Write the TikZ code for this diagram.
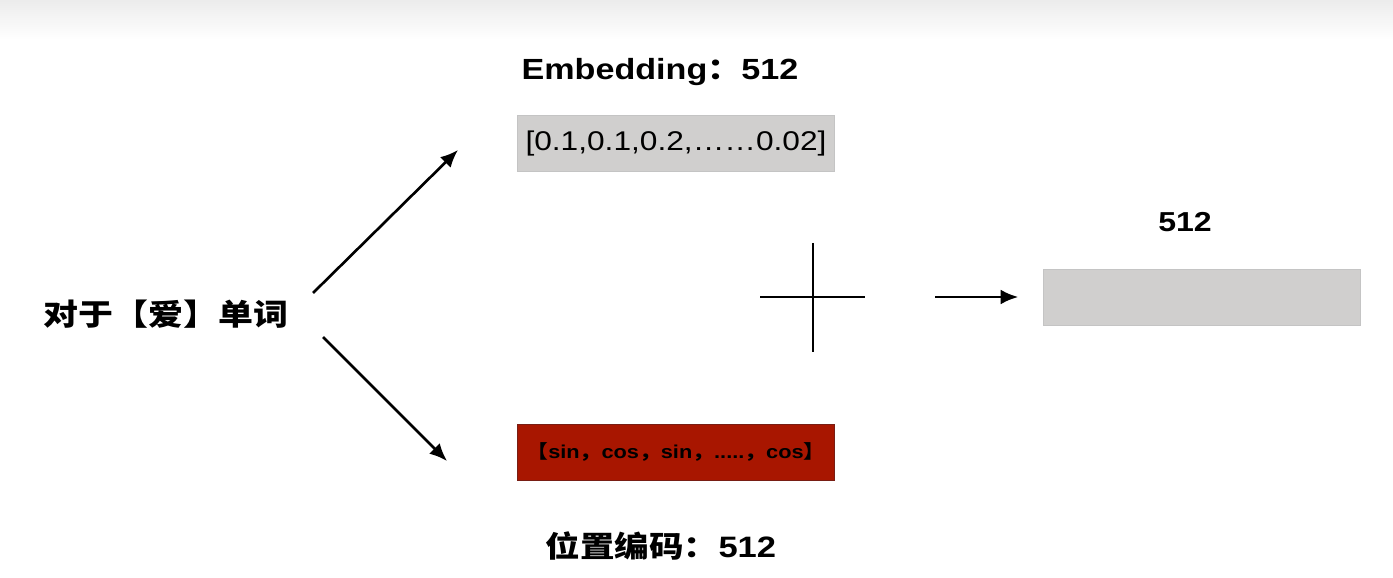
\documentclass[tikz,border=0pt]{standalone}
\usepackage{fontspec}
\setmainfont[FakeStretch=1.17]{Liberation Sans}
\newfontfamily\cjk[FakeStretch=1.17]{Noto Sans CJK SC}
\usetikzlibrary{arrows.meta,calc,positioning}
\definecolor{BoxGray}{RGB}{208,207,206}
\definecolor{EdgeGray}{RGB}{196,196,196}
\definecolor{PosRed}{RGB}{168,22,0}
\definecolor{EdgeRed}{RGB}{120,30,20}
\definecolor{TopGray}{RGB}{236,236,236}
\begin{document}
\begin{tikzpicture}[>=Latex,x=0.02cm,y=0.02cm,
  vecbox/.style={draw=EdgeGray,fill=BoxGray,minimum width=6.34cm,minimum height=1.12cm,inner sep=0pt},
  arr/.style={->,line width=1.5pt,>={Latex[length=10pt,width=8.5pt]}}]
\useasboundingbox (0,0) rectangle (1393,578);
\shade[top color=TopGray,bottom color=white] (0,538) rectangle (1393,578);
\node (word) at (166,264) {\cjk\fontsize{17pt}{20pt}\selectfont\bfseries 对于【爱】单词};
\node (emb) at (660,506) {\fontsize{16.6pt}{19pt}\selectfont\bfseries Embedding{\cjk ：}512};
\node[vecbox] (vec) at (676,434.5) {\fontsize{15.4pt}{18pt}\selectfont [0.1,0.1,0.2,……0.02]};
\node[vecbox,draw=EdgeRed,fill=PosRed] (pos) at (676,126) {\fontsize{10.6pt}{13pt}\selectfont\bfseries {\cjk 【}sin{\cjk ，}cos{\cjk ，}sin{\cjk ，}.....{\cjk ，}cos{\cjk 】}};
\node (poslab) at (661,32) {\fontsize{16.8pt}{19pt}\selectfont\bfseries{\cjk 位置编码：}512};
\node[vecbox] (sum) at (1202,281) {};
\node (dim) at (1185,356) {\fontsize{15.6pt}{18pt}\selectfont\bfseries 512};
% the plus sign
\coordinate (plus) at (813,281);
\draw[line width=1.6pt] ($(plus)+(-53,0)$) -- ($(plus)+(52,0)$);
\draw[line width=1.6pt] ($(plus)+(0,54)$) -- ($(plus)+(0,-55)$);
% arrows
\coordinate (fromup) at (313,285);
\coordinate (fromdown) at (323,241);
\coordinate (up) at (458,428);
\coordinate (down) at (447,117);
\draw[arr] (fromup) -- (up);
\draw[arr] (fromdown) -- (down);
\draw[arr] ($(plus)+(122,0)$) -- ($(sum.west)+(-25,0)$);
\end{tikzpicture}
\end{document}
